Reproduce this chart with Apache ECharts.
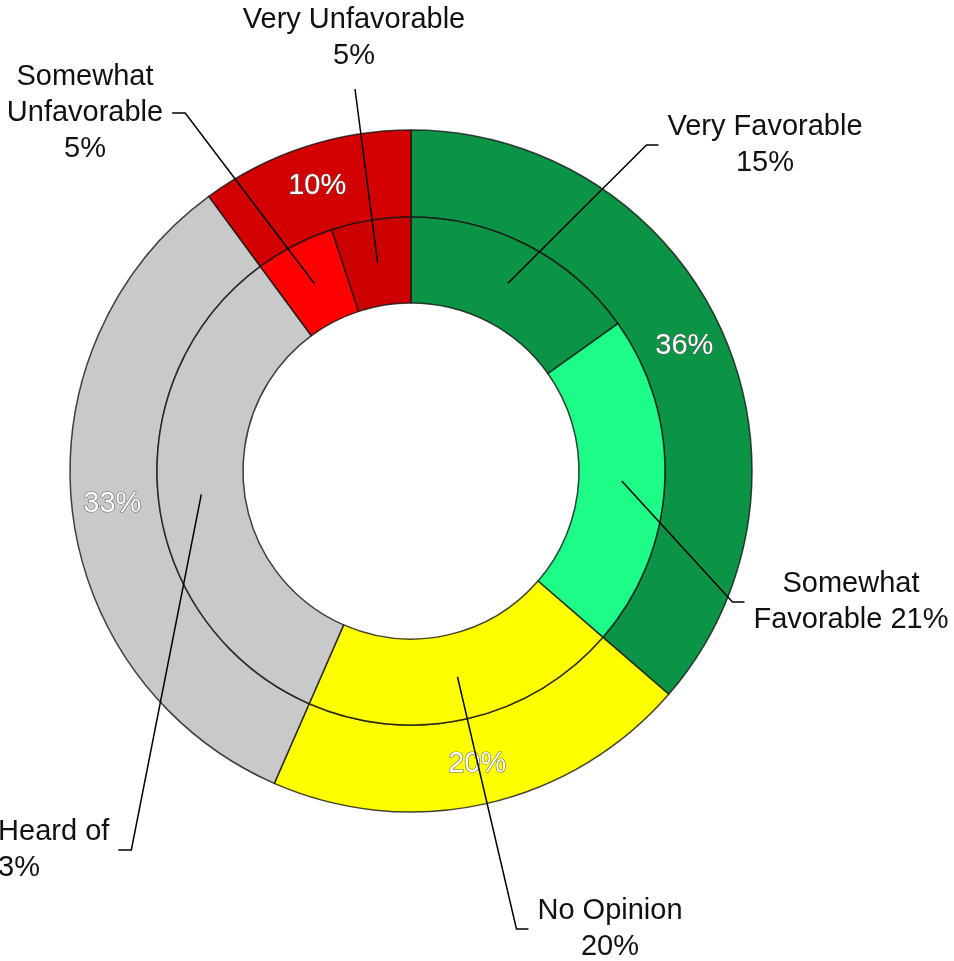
<!DOCTYPE html>
<html>
<head>
<meta charset="utf-8">
<script src="https://cdn.jsdelivr.net/npm/echarts@6/dist/echarts.min.js"></script>
<style>
  html, body { margin: 0; padding: 0; background: #fff; }
  #chart { width: 954px; height: 961px; }
</style>
</head>
<body>
<div id="chart"></div>
<script>
// --- Data ---
const outerNames = ["Favorable", "No Opinion", "Never Heard of", "Unfavorable"];
const outerValues = [36, 20, 33, 10];
const outerColors = ["#0c9446", "#ffff00", "#c9c9c9", "#d20000"];

const innerNames = [
  "Very Favorable",
  "Somewhat\nFavorable",
  "No Opinion",
  "Never Heard of",
  "Somewhat\nUnfavorable",
  "Very Unfavorable",
];
const innerValues = [15, 21, 20, 33, 5, 5];
const innerColors = ["#0c9446", "#1cfc87", "#ffff00", "#c9c9c9", "#ff0000", "#cc0000"];
// separator between name and value in each callout
const valueJoin = ["\n", " ", "\n", "\n", "\n", "\n"];

// --- Layout ---
const CENTER = [411, 471];
const R_HOLE = 168, R_MID = 254, R_OUT = 341;
const FONT = "'Liberation Sans', Arial, sans-serif";

// callout block centres and which side the leader comes in from
const calloutPos = [[765, 145], [851, 602], [610, 929], [11, 850], [85, 113], [354, 38]];
const calloutSide = ["right", "right", "right", "left", "left", "top"];

const border = { borderColor: "rgba(20,20,20,0.8)", borderWidth: 1.5 };

function calloutLayout(params) {
  const i = params.dataIndex;
  const [cx, cy] = calloutPos[i];
  const w = params.labelRect.width;
  const h = params.labelRect.height;
  // leader starts mid-ring, along the slice's own mid angle
  const p0 = params.labelLinePoints[0];
  const dx = p0[0] - CENTER[0], dy = p0[1] - CENTER[1];
  const len = Math.hypot(dx, dy) || 1;
  const rs = (R_HOLE + R_MID) / 2;
  const start = [CENTER[0] + (dx / len) * rs, CENTER[1] + (dy / len) * rs];
  let end, elbow;
  if (calloutSide[i] === "right") {
    end = [cx - w / 2 - 9, cy];
    elbow = [end[0] - 12, cy];
  } else if (calloutSide[i] === "left") {
    end = [cx + w / 2 + 9, cy];
    elbow = [end[0] + 13, cy];
  } else {
    end = [cx + 1, cy + h / 2 + 15];
    elbow = end;
  }
  return { x: cx, y: cy, align: "center", verticalAlign: "middle", labelLinePoints: [start, elbow, end] };
}

const innerData = (styled) =>
  innerNames.map((n, i) => ({
    name: n,
    value: innerValues[i],
    itemStyle: styled ? { color: innerColors[i] } : { color: "rgba(0,0,0,0)", borderWidth: 0 },
  }));

const chart = echarts.init(document.getElementById("chart"), null, { renderer: "canvas" });

chart.setOption({
  backgroundColor: "#ffffff",
  animation: false,
  series: [
    {
      name: "outer",
      type: "pie",
      z: 2,
      center: CENTER,
      radius: [R_MID, R_OUT],
      startAngle: 90,
      clockwise: true,
      avoidLabelOverlap: false,
      silent: true,
      itemStyle: border,
      label: {
        show: true,
        position: "inside",
        formatter: (p) => p.value + "%",
        fontFamily: FONT,
        fontSize: 29,
        color: "#ffffff",
        textBorderColor: "rgba(90,90,90,0.9)",
        textBorderWidth: 1.2,
      },
      labelLine: { show: false },
      data: outerNames.map((n, i) => ({ name: n, value: outerValues[i], itemStyle: { color: outerColors[i] } })),
    },
    {
      name: "inner",
      type: "pie",
      z: 3,
      center: CENTER,
      radius: [R_HOLE, R_MID],
      startAngle: 90,
      clockwise: true,
      silent: true,
      itemStyle: border,
      label: { show: false },
      labelLine: { show: false },
      data: innerData(true),
    },
    {
      // transparent twin of the inner ring that only carries the callouts,
      // so the leader lines are drawn over both rings
      name: "innerLabels",
      type: "pie",
      z: 6,
      center: CENTER,
      radius: [R_HOLE, R_MID],
      startAngle: 90,
      clockwise: true,
      avoidLabelOverlap: false,
      silent: true,
      label: {
        show: true,
        position: "outside",
        formatter: (p) => p.name + valueJoin[p.dataIndex] + p.value + "%",
        fontFamily: FONT,
        fontSize: 29,
        lineHeight: 36,
        color: "#111111",
      },
      labelLine: { show: true, lineStyle: { color: "#000000", width: 1.5 } },
      labelLayout: calloutLayout,
      data: innerData(false),
    },
  ],
});
</script>
</body>
</html>
